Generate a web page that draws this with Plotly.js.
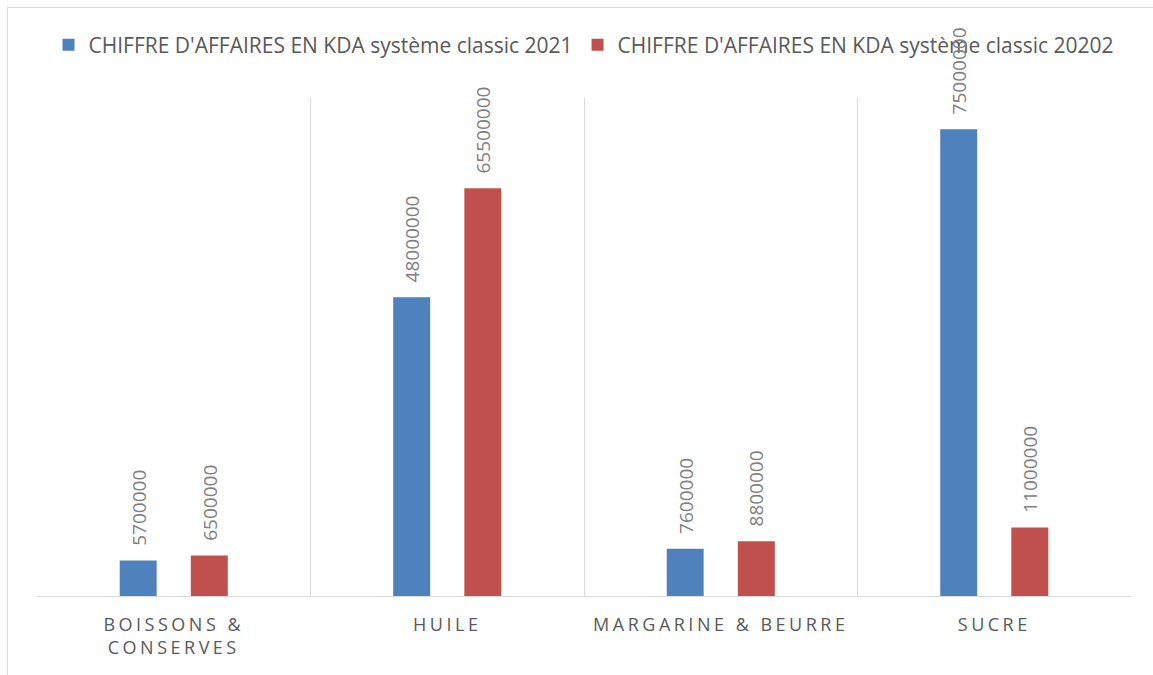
<!DOCTYPE html>
<html>
<head>
<meta charset="utf-8">
<script src="https://cdn.plot.ly/plotly-3.0.1.min.js"></script>
<style>
  html, body { margin: 0; padding: 0; background: #fff; overflow: hidden; }
  #chart { width: 1153px; height: 675px; }
  #frame { position: absolute; left: 7px; top: 7px; width: 1200px; height: 700px; border: 1px solid #d9d9d9; pointer-events: none; }
  .xtick text { letter-spacing: 3.5px; }
</style>
</head>
<body>
<div id="chart"></div>
<div id="frame"></div>
<script>
const categories = ["BOISSONS &<br>CONSERVES", "HUILE", "MARGARINE & BEURRE", "SUCRE"];
const seriesNames = ["CHIFFRE D'AFFAIRES EN KDA système classic 2021", "CHIFFRE D'AFFAIRES EN KDA système classic 20202"];
const values2021 = [5700000, 48000000, 7600000, 75000000];
const values20202 = [6500000, 65500000, 8800000, 11000000];
const seriesColors = ["#4f81bd", "#c0504d"];

const allSeries = [values2021, values20202];
const labelFont = { family: "Open Sans, sans-serif", size: 19, color: "#808080" };

const traces = allSeries.map((vals, i) => ({
  type: "bar", name: seriesNames[i], x: categories, y: vals,
  marker: { color: seriesColors[i] }, hoverinfo: "skip"
}));

// data labels above each bar, bound to data values
const offsets = [-35.5, 35.5];
const annotations = [];
allSeries.forEach((vals, i) => {
  vals.forEach((v, j) => {
    annotations.push({
      x: categories[j], y: v, xref: "x", yref: "y",
      text: String(v), showarrow: false, textangle: -90,
      xanchor: "center", yanchor: "bottom", xshift: offsets[i], yshift: 13,
      font: labelFont
    });
  });
});

const layout = {
  width: 1153, height: 675,
  margin: { l: 37, r: 22, t: 98, b: 79 },
  paper_bgcolor: "#ffffff", plot_bgcolor: "#ffffff",
  barmode: "group", bargap: 0.48, bargroupgap: 0.48,
  showlegend: true,
  legend: {
    orientation: "h", x: 0.5, xanchor: "center", y: 1.106, yanchor: "middle",
    bgcolor: "rgba(0,0,0,0)",
    font: { family: "Open Sans, sans-serif", size: 21, color: "#595959" },
    itemwidth: 30, tracegroupgap: 0
  },
  annotations: annotations,
  xaxis: {
    type: "category", tickson: "boundaries", showgrid: true, gridcolor: "#d9d9d9", gridwidth: 1,
    ticks: "", showline: true, linecolor: "#d9d9d9", linewidth: 1,
    tickfont: { family: "Open Sans, sans-serif", size: 18, color: "#595959" },
    ticklabelstandoff: 12,
    range: [-0.5, 3.5], fixedrange: true, zeroline: false
  },
  yaxis: {
    range: [0, 80000000], showgrid: false, showticklabels: false, ticks: "",
    zeroline: false, showline: false, fixedrange: true
  }
};

Plotly.newPlot("chart", traces, layout, { displayModeBar: false, staticPlot: true });
</script>
</body>
</html>
